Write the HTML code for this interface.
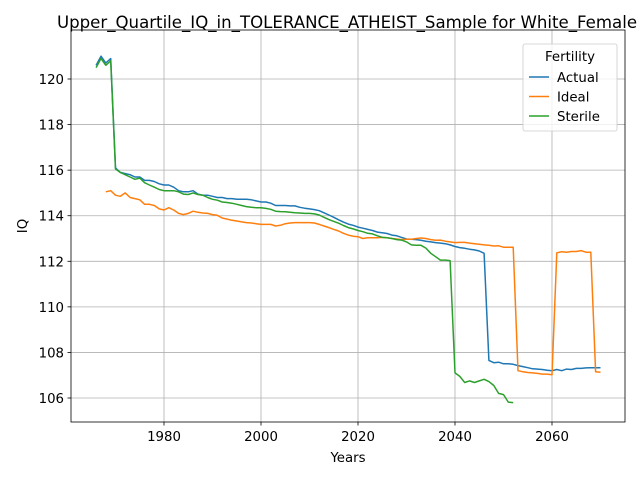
<!DOCTYPE html>
<html><head><meta charset="utf-8"><style>
body{margin:0;background:#fff;font-family:"Liberation Sans","DejaVu Sans",sans-serif}
svg text{font-family:"DejaVu Sans","Liberation Sans",sans-serif}
</style></head><body>
<svg id="chart" width="640" height="480" xmlns="http://www.w3.org/2000/svg"></svg>
<script>
const actualStart=1966;
const actualValues=[120.6,121.0,120.7,120.9,116.1,115.9,115.85,115.8,115.7,115.7,115.55,115.55,115.5,115.4,115.35,115.35,115.25,115.1,115.05,115.05,115.1,114.95,114.9,114.9,114.85,114.8,114.8,114.75,114.75,114.72,114.72,114.72,114.7,114.65,114.6,114.6,114.55,114.45,114.45,114.45,114.43,114.43,114.37,114.33,114.3,114.27,114.22,114.13,114.03,113.93,113.82,113.72,113.63,113.58,113.5,113.45,113.4,113.35,113.28,113.25,113.22,113.15,113.12,113.05,112.98,112.97,112.95,112.92,112.88,112.85,112.82,112.8,112.77,112.72,112.65,112.6,112.57,112.53,112.5,112.45,112.35,107.65,107.55,107.57,107.5,107.5,107.48,107.42,107.38,107.33,107.28,107.27,107.25,107.22,107.2,107.25,107.2,107.27,107.25,107.3,107.3,107.32,107.33,107.33,107.33];
const idealStart=1968;
const idealValues=[115.05,115.1,114.9,114.85,115.0,114.8,114.75,114.7,114.5,114.5,114.45,114.3,114.25,114.35,114.25,114.1,114.05,114.1,114.2,114.15,114.12,114.1,114.05,114.02,113.9,113.85,113.8,113.77,113.73,113.7,113.68,113.65,113.62,113.62,113.62,113.55,113.58,113.65,113.68,113.7,113.7,113.7,113.7,113.68,113.62,113.55,113.48,113.4,113.33,113.23,113.15,113.1,113.08,113.0,113.03,113.03,113.03,113.05,113.03,113.0,112.98,112.95,112.97,112.97,113.0,113.02,113.0,112.95,112.92,112.93,112.88,112.85,112.82,112.83,112.83,112.8,112.77,112.75,112.72,112.7,112.67,112.68,112.62,112.62,112.62,107.2,107.15,107.12,107.1,107.08,107.05,107.05,107.02,112.37,112.42,112.4,112.43,112.43,112.47,112.4,112.4,107.15,107.13];
const sterileStart=1966;
const sterileValues=[120.5,120.9,120.6,120.8,116.05,115.9,115.8,115.7,115.6,115.65,115.45,115.35,115.25,115.15,115.1,115.1,115.1,115.05,114.95,114.93,115.0,114.93,114.9,114.8,114.72,114.68,114.6,114.58,114.55,114.5,114.45,114.4,114.37,114.35,114.35,114.32,114.28,114.2,114.18,114.17,114.15,114.13,114.12,114.1,114.1,114.08,114.03,113.93,113.83,113.75,113.67,113.57,113.48,113.42,113.35,113.3,113.23,113.2,113.12,113.05,113.03,113.0,112.95,112.93,112.85,112.72,112.7,112.7,112.58,112.35,112.2,112.05,112.05,112.03,107.1,106.95,106.68,106.75,106.68,106.75,106.82,106.72,106.55,106.2,106.15,105.82,105.8];
const xTicks=[1980,2000,2020,2040,2060];
const yTicks=[106,108,110,112,114,116,118,120];
const seriesNames=["Actual","Ideal","Sterile"];
const colors=["#1f77b4","#ff7f0e","#2ca02c"];

const L=71,R=625,T=30,B=422;
const xs=v=>164+(v-1980)*4.85;
const ys=v=>79+(120-v)*22.786;
const svg=document.getElementById('chart');
const NS='http://www.w3.org/2000/svg';
function mk(tag,attrs,parent){const e=document.createElementNS(NS,tag);for(const k in attrs)e.setAttribute(k,attrs[k]);(parent||svg).appendChild(e);return e;}

let g=mk('g',{});


xTicks.forEach(t=>{
  const l=mk('line',{x1:xs(t),x2:xs(t),y1:T,y2:B,stroke:'#b0b0b0','stroke-width':0.8},g);
  
  
  const tk=mk('line',{x1:xs(t),x2:xs(t),y1:B,y2:B+3.5,stroke:'#000','stroke-width':0.8});
  
  
  const tx=mk('text',{x:xs(t),y:B+19,'font-size':13.3,'text-anchor':'middle'});
  tx.textContent=t;
  
  
});
yTicks.forEach(t=>{
  const l=mk('line',{x1:L,x2:R,y1:ys(t),y2:ys(t),stroke:'#b0b0b0','stroke-width':0.8},g);
  
  
  const tk=mk('line',{x1:L-3.5,x2:L,y1:ys(t),y2:ys(t),stroke:'#000','stroke-width':0.8});
  
  
  const tx=mk('text',{x:L-7,y:ys(t)+5,'font-size':13.3,'text-anchor':'end'});
  tx.textContent=t;
  
  
});

const data=[[actualStart,actualValues],[idealStart,idealValues],[sterileStart,sterileValues]];
data.forEach((d,i)=>{
  const pts=d[1].map((v,j)=>xs(d[0]+j).toFixed(1)+','+ys(v).toFixed(1)).join(' ');
  const p=mk('polyline',{points:pts,fill:'none',stroke:colors[i],'stroke-width':1.5,'stroke-linejoin':'round'});
  
  
});

const frame=mk('rect',{x:L,y:T,width:R-L,height:B-T,fill:'none',stroke:'#000','stroke-width':0.8});



const title=mk('text',{x:347,y:28,'font-size':16.6,'text-anchor':'middle'});
title.textContent='Upper_Quartile_IQ_in_TOLERANCE_ATHEIST_Sample for White_Female';


const xl=mk('text',{x:348,y:462,'font-size':13.3,'text-anchor':'middle'});
xl.textContent='Years';


const yl=mk('text',{x:27,y:226,'font-size':13.3,'text-anchor':'middle',transform:'rotate(-90 27 226)'});
yl.textContent='IQ';



const lg=mk('g',{});


mk('rect',{x:523,y:44,width:94,height:87,rx:2,fill:'#fff','fill-opacity':0.8,stroke:'#ccc','stroke-width':0.8},lg);
const lt=mk('text',{x:570,y:61,'font-size':13.3,'text-anchor':'middle'},lg);
lt.textContent='Fertility';


seriesNames.forEach((n,i)=>{
  const y=77+i*19.5;
  const e=mk('g',{},lg);
  
  
  mk('line',{x1:529,x2:549,y1:y,y2:y,stroke:colors[i],'stroke-width':1.5},e);
  const t=mk('text',{x:557,y:y+5,'font-size':13.3},e);
  t.textContent=n;
});
</script>
</body></html>
